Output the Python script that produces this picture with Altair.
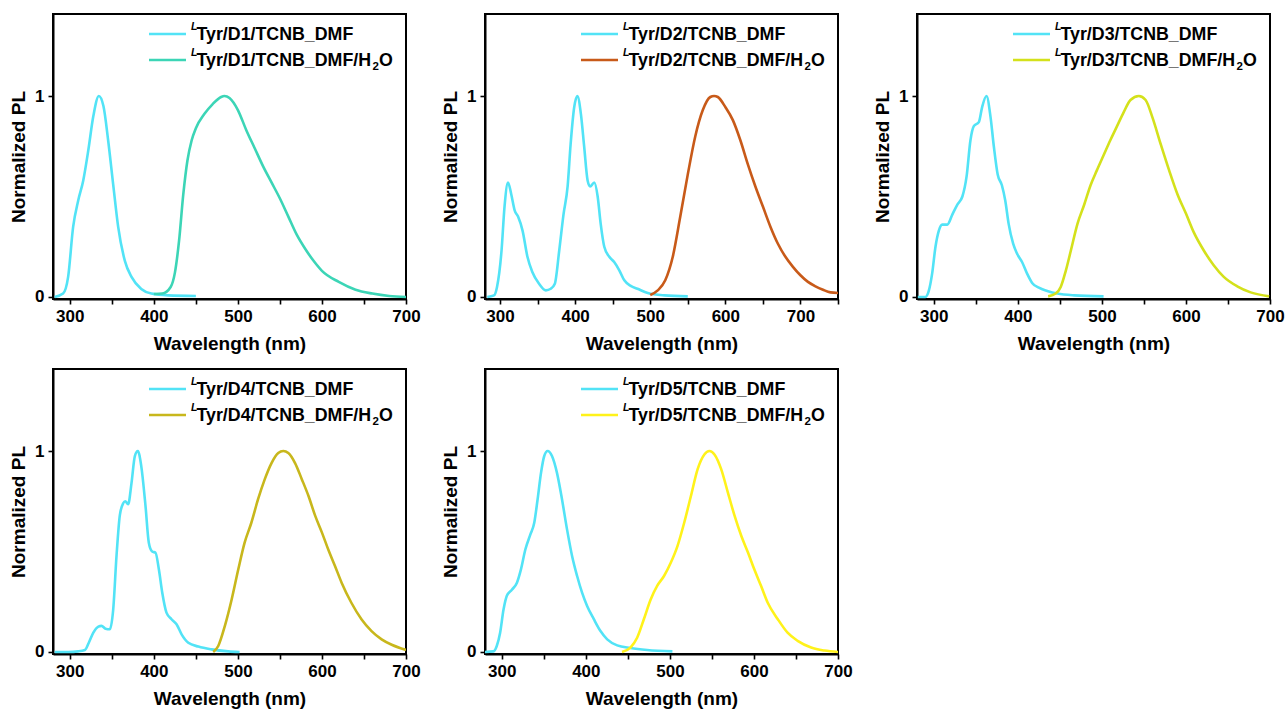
import altair as alt
import pandas as pd

# ---------------- data ----------------
d1_dmf_wl = [282, 292, 298, 304, 310, 316, 322, 328, 334.5, 340, 345.6, 351.6, 357.5, 365.5, 373.4, 385, 397, 417, 450]
d1_dmf_pl = [0, 0.017, 0.1, 0.35, 0.48, 0.58, 0.73, 0.9, 1.0, 0.95, 0.78, 0.56, 0.35, 0.18, 0.1, 0.04, 0.017, 0.008, 0.005]
d1_h2o_wl = [400, 410, 420, 425, 430, 435, 440, 445, 450, 460, 470, 480, 484, 490, 500, 510, 520, 530, 540, 550, 560, 570, 580, 590, 600, 620, 640, 660, 680, 700]
d1_h2o_pl = [0.015, 0.017, 0.05, 0.12, 0.28, 0.51, 0.68, 0.78, 0.84, 0.91, 0.96, 0.995, 1.0, 0.99, 0.93, 0.83, 0.74, 0.65, 0.57, 0.49, 0.40, 0.31, 0.24, 0.18, 0.13, 0.075, 0.036, 0.017, 0.005, 0.0]

d2_dmf_wl = [283, 292, 296, 302, 306, 310.7, 315, 319.6, 324, 330, 336.5, 343, 352, 361, 367.6, 373, 378.8, 384.5, 390, 394, 398.8, 403, 407.7, 412, 416.6, 420, 425.5, 430, 434, 438.8, 445.5, 452, 458.8, 465.5, 474, 483, 496.7, 519, 550]
d2_dmf_pl = [0, 0.008, 0.05, 0.23, 0.45, 0.57, 0.51, 0.43, 0.40, 0.33, 0.2, 0.124, 0.066, 0.033, 0.041, 0.066, 0.23, 0.41, 0.55, 0.76, 0.945, 1.0, 0.91, 0.75, 0.58, 0.55, 0.57, 0.50, 0.365, 0.25, 0.2, 0.174, 0.133, 0.083, 0.055, 0.041, 0.02, 0.008, 0.003]
d2_h2o_wl = [500, 510, 520, 530, 540, 550, 560, 570, 580, 585, 590, 600, 610, 620, 630, 640, 650, 660, 670, 680, 690, 700, 710, 720, 730, 740, 750]
d2_h2o_pl = [0.01, 0.033, 0.083, 0.2, 0.4, 0.61, 0.8, 0.93, 0.995, 1.0, 0.995, 0.945, 0.88, 0.78, 0.66, 0.55, 0.45, 0.35, 0.265, 0.2, 0.15, 0.108, 0.075, 0.053, 0.036, 0.023, 0.02]

d3_dmf_wl = [281, 290, 294, 298, 302, 306, 310, 316, 322, 328, 334, 339, 343.6, 347.6, 353.6, 357.5, 362.7, 367.5, 371.4, 376, 381, 385, 389, 394.4, 399, 405, 411, 417, 425, 435, 447, 467, 502]
d3_dmf_pl = [0, 0, 0.03, 0.116, 0.25, 0.33, 0.36, 0.36, 0.41, 0.46, 0.50, 0.60, 0.78, 0.85, 0.87, 0.945, 1.0, 0.895, 0.75, 0.61, 0.556, 0.48, 0.365, 0.265, 0.216, 0.174, 0.116, 0.07, 0.046, 0.03, 0.017, 0.008, 0.003]
d3_h2o_wl = [436, 445, 451, 457, 463, 471, 479, 486.5, 494, 502, 510, 518, 526, 534, 544, 552, 560, 570, 580, 590, 600, 609.5, 621.4, 633, 645, 661, 677, 699]
d3_h2o_pl = [0.003, 0.017, 0.05, 0.13, 0.23, 0.365, 0.46, 0.556, 0.63, 0.705, 0.78, 0.85, 0.92, 0.98, 1.0, 0.98, 0.895, 0.76, 0.63, 0.51, 0.415, 0.32, 0.23, 0.158, 0.1, 0.053, 0.023, 0.003]

d4_dmf_wl = [282, 298, 310, 318, 322.6, 328, 334, 337.7, 342.5, 347.6, 351.6, 355.6, 359.5, 363.5, 366, 369.4, 373.4, 377.4, 381, 385, 390, 394, 398, 402, 406, 410, 415, 421, 427, 433, 441, 453, 468.6, 488.5, 502]
d4_dmf_pl = [0, 0, 0.003, 0.01, 0.046, 0.096, 0.126, 0.13, 0.116, 0.113, 0.21, 0.48, 0.68, 0.74, 0.75, 0.735, 0.84, 0.975, 1.0, 0.925, 0.73, 0.544, 0.50, 0.494, 0.41, 0.295, 0.196, 0.163, 0.138, 0.088, 0.046, 0.027, 0.013, 0.003, 0]
d4_h2o_wl = [470.6, 476.6, 484.5, 492.5, 500.4, 508, 516, 524, 532, 540, 548, 554, 560, 568, 576, 584, 592, 600, 607.5, 615.5, 623.4, 635, 647, 659, 671, 683, 700]
d4_h2o_pl = [0, 0.03, 0.13, 0.26, 0.41, 0.544, 0.643, 0.76, 0.86, 0.94, 0.99, 1.0, 0.99, 0.94, 0.86, 0.776, 0.677, 0.594, 0.51, 0.428, 0.345, 0.245, 0.163, 0.104, 0.063, 0.036, 0.01]

d5_dmf_wl = [280, 290, 294, 298, 302, 306, 312, 318, 322.7, 328, 334, 338.6, 342.6, 346.6, 350.5, 354.5, 359.7, 365.7, 371.6, 377.6, 383.6, 389.6, 395.5, 401.5, 409.5, 417.4, 425.4, 437.3, 453, 473, 503]
d5_dmf_pl = [0, 0.003, 0.03, 0.096, 0.21, 0.28, 0.31, 0.345, 0.41, 0.51, 0.585, 0.643, 0.76, 0.89, 0.975, 1.0, 0.975, 0.89, 0.76, 0.61, 0.478, 0.378, 0.295, 0.229, 0.163, 0.104, 0.063, 0.033, 0.02, 0.01, 0.003]
d5_h2o_wl = [443, 453, 461, 469, 477, 485, 493, 501, 509, 517, 525, 533, 541, 547, 553, 561, 569, 577, 585, 593, 600.5, 608.5, 616.4, 628.4, 640, 652, 668, 684, 700]
d5_h2o_pl = [0, 0.022, 0.071, 0.163, 0.26, 0.33, 0.378, 0.444, 0.527, 0.643, 0.776, 0.91, 0.983, 1.0, 0.983, 0.91, 0.793, 0.677, 0.577, 0.494, 0.41, 0.328, 0.245, 0.163, 0.096, 0.055, 0.022, 0.007, 0]

panel_names = ["D1", "D2", "D3", "D4", "D5"]
x_max = [700, 750, 700, 700, 700]
dmf_color = "#52E3F6"
h2o_colors = ["#3CD5B6", "#C85A19", "#D4E11B", "#C8B71C", "#FFF21A"]

series = {
    "D1": (d1_dmf_wl, d1_dmf_pl, d1_h2o_wl, d1_h2o_pl),
    "D2": (d2_dmf_wl, d2_dmf_pl, d2_h2o_wl, d2_h2o_pl),
    "D3": (d3_dmf_wl, d3_dmf_pl, d3_h2o_wl, d3_h2o_pl),
    "D4": (d4_dmf_wl, d4_dmf_pl, d4_h2o_wl, d4_h2o_pl),
    "D5": (d5_dmf_wl, d5_dmf_pl, d5_h2o_wl, d5_h2o_pl),
}

# ---------------- styling ----------------
FONT = "Liberation Sans"
W, H = 353, 285
LEG_FS = 17.8
SUP_FS = 10.5
# Arial Bold advance widths (per 1000 em) for legend text layout
AW = {"T": 611, "y": 556, "r": 389, "/": 278, "D": 722, "1": 556, "2": 556, "3": 556,
      "4": 556, "5": 556, "C": 722, "N": 722, "B": 722, "_": 556, "M": 833, "F": 611,
      "H": 722, "O": 778}


def tw(s, fs):
    return sum(AW[c] for c in s) * fs / 1000.0


one = alt.Data(values=[{}])


def legend_layers(name, color2):
    x_line0, x_line1 = 96, 133
    x_sup, x_txt = 138, 143.5
    rows = [20, 46]
    layers = []
    for i, (col, main) in enumerate([(dmf_color, f"Tyr/{name}/TCNB_DMF"),
                                     (color2, f"Tyr/{name}/TCNB_DMF/H")]):
        yl = rows[i]
        layers.append(alt.Chart(one).mark_rule(color=col, strokeWidth=2.6).encode(
            x=alt.value(x_line0), x2=alt.value(x_line1), y=alt.value(yl)))
        layers.append(alt.Chart(one).mark_text(
            text="L", font=FONT, fontSize=SUP_FS, fontStyle="italic", fontWeight="bold",
            align="left", baseline="alphabetic", color="black").encode(
            x=alt.value(x_sup), y=alt.value(yl - 4)))
        layers.append(alt.Chart(one).mark_text(
            text=main, font=FONT, fontSize=LEG_FS, fontWeight="bold",
            align="left", baseline="alphabetic", color="black").encode(
            x=alt.value(x_txt), y=alt.value(yl + 5.5)))
        if i == 1:
            x2 = x_txt + tw(main, LEG_FS)
            layers.append(alt.Chart(one).mark_text(
                text="2", font=FONT, fontSize=SUP_FS + 1, fontWeight="bold",
                align="left", baseline="alphabetic", color="black").encode(
                x=alt.value(x2), y=alt.value(yl + 9.5)))
            layers.append(alt.Chart(one).mark_text(
                text="O", font=FONT, fontSize=LEG_FS, fontWeight="bold",
                align="left", baseline="alphabetic", color="black").encode(
                x=alt.value(x2 + tw("2", SUP_FS + 1)), y=alt.value(yl + 5.5)))
    return layers


panels = []
for k, name in enumerate(panel_names):
    wl1, pl1, wl2, pl2 = series[name]
    xm = x_max[k]
    xticks = list(range(300, xm + 1, 50))
    xenc = alt.X("wl:Q", scale=alt.Scale(domain=[280, xm], nice=False, zero=False),
                 axis=alt.Axis(title="Wavelength (nm)", values=xticks, format="d",
                               labelExpr="datum.value % 100 == 0 ? datum.label : ''",
                               labelFlush=False, labelOverlap=False))
    yenc = alt.Y("pl:Q", scale=alt.Scale(domain=[-0.01, 1.408], nice=False, zero=False),
                 axis=alt.Axis(title="Normalized PL", values=[0, 0.5, 1], format="d",
                               labelExpr="datum.value == 0.5 ? '' : datum.label",
                               labelOverlap=False))
    line_dmf = alt.Chart(pd.DataFrame({"wl": wl1, "pl": pl1})).mark_line(
        strokeWidth=2.6, interpolate="monotone", clip=True, color=dmf_color).encode(x=xenc, y=yenc)
    line_h2o = alt.Chart(pd.DataFrame({"wl": wl2, "pl": pl2})).mark_line(
        strokeWidth=2.6, interpolate="monotone", clip=True, color=h2o_colors[k]).encode(x=xenc, y=yenc)
    panel = alt.layer(line_dmf, line_h2o, *legend_layers(name, h2o_colors[k])).properties(width=W, height=H)
    panels.append(panel)

chart = alt.concat(*panels, columns=3, spacing={"row": 70, "column": 79}, bounds="flush").properties(
    padding={"left": 8, "top": 13, "right": 0, "bottom": 0},
    background="white",
).configure_view(
    stroke="black", strokeWidth=2
).configure_axis(
    grid=False, domainColor="black", domainWidth=2, tickColor="black", tickWidth=1.6,
    tickSize=5, labelFont=FONT, labelFontSize=17, labelFontWeight="bold", labelColor="black",
    labelPadding=4, titleFont=FONT, titleFontSize=19, titleFontWeight="bold", titleColor="black",
).configure_axisX(titlePadding=10).configure_axisY(titlePadding=6)

chart.save("out.html", embed_options={"renderer": "svg", "actions": False})
